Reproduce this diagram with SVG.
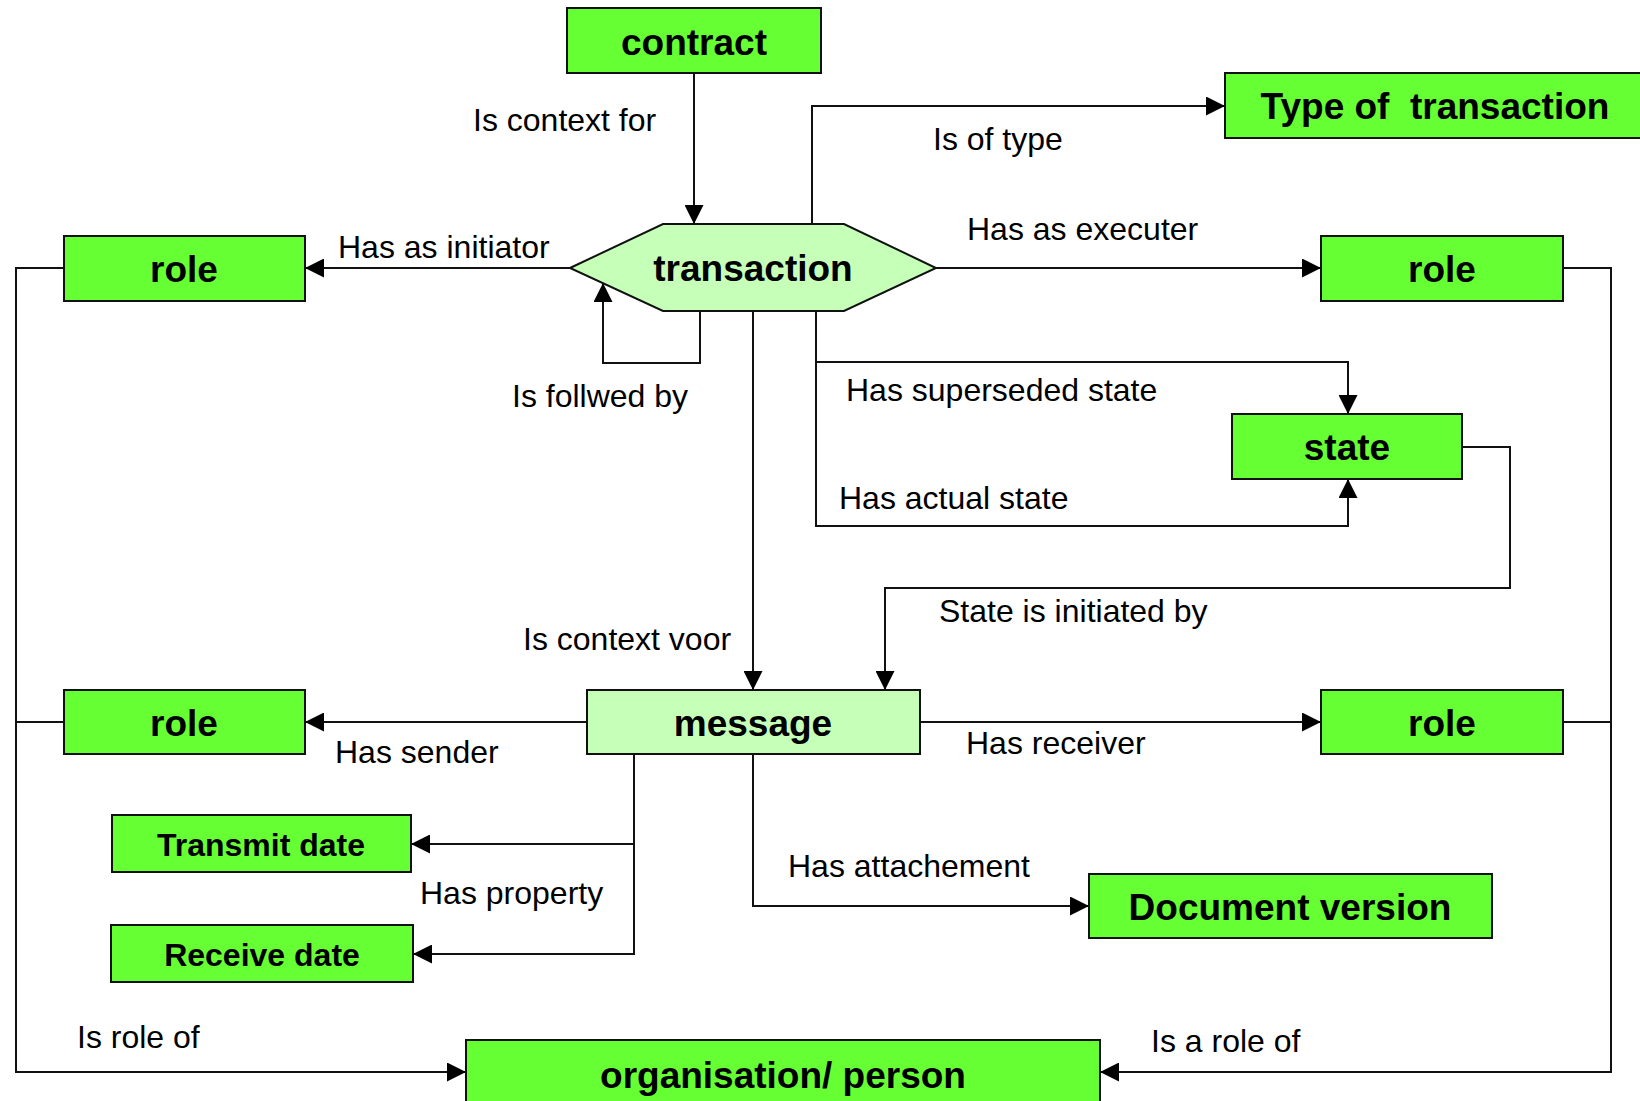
<svg xmlns="http://www.w3.org/2000/svg" width="1640" height="1101" viewBox="0 0 1640 1101">
  <style>
    .box { fill: #66FF33; stroke: #111; stroke-width: 2; }
    .soft { fill: #C6FFB8; stroke: #111; stroke-width: 2; }
    .title { font-family: "Liberation Sans", Arial, sans-serif; font-weight: bold; font-size: 37px; fill: #000; text-anchor: middle; white-space: pre; }
    .small { font-size: 32px; }
    .edge { fill: none; stroke: #111; stroke-width: 2; }
    .label { font-family: "Liberation Sans", Arial, sans-serif; font-size: 32px; fill: #000; }
  </style>
  <defs>
    <marker id="arrow" markerUnits="userSpaceOnUse" markerWidth="19" markerHeight="19" refX="19" refY="9.5" orient="auto">
      <path d="M0,0 L19,9.5 L0,19 z" fill="#000"/>
    </marker>
  </defs>
  <rect width="1640" height="1101" fill="#fff"/>

  <g id="connectors">
    <path class="edge" d="M694,73 V224" marker-end="url(#arrow)"/>
    <path class="edge" d="M812,224 V106 H1225" marker-end="url(#arrow)"/>
    <path class="edge" d="M570,268 H305" marker-end="url(#arrow)"/>
    <path class="edge" d="M936,268 H1321" marker-end="url(#arrow)"/>
    <path class="edge" d="M700,311 V363 H603 V283" marker-end="url(#arrow)"/>
    <path class="edge" d="M753,311 V690" marker-end="url(#arrow)"/>
    <path class="edge" d="M816,311 V362 H1348 V414" marker-end="url(#arrow)"/>
    <path class="edge" d="M816,362 V526 H1348 V479" marker-end="url(#arrow)"/>
    <path class="edge" d="M1462,447 H1510 V588 H885 V690" marker-end="url(#arrow)"/>
    <path class="edge" d="M587,722 H305" marker-end="url(#arrow)"/>
    <path class="edge" d="M920,722 H1321" marker-end="url(#arrow)"/>
    <path class="edge" d="M634,754 V844 H411" marker-end="url(#arrow)"/>
    <path class="edge" d="M634,844 V954 H413" marker-end="url(#arrow)"/>
    <path class="edge" d="M753,754 V906 H1089" marker-end="url(#arrow)"/>
    <path class="edge" d="M64,268 H16 V1072 H466" marker-end="url(#arrow)"/>
    <path class="edge" d="M64,722 H16"/>
    <path class="edge" d="M1563,268 H1611 V1072 H1100" marker-end="url(#arrow)"/>
    <path class="edge" d="M1563,722 H1611"/>
  </g>

  <g id="edge-labels" class="label">
    <text x="473" y="131">Is context for</text>
    <text x="933" y="150">Is of type</text>
    <text x="967" y="240">Has as executer</text>
    <text x="338" y="258">Has as initiator</text>
    <text x="512" y="407">Is follwed by</text>
    <text x="846" y="401">Has superseded state</text>
    <text x="839" y="509">Has actual state</text>
    <text x="939" y="622">State is initiated by</text>
    <text x="523" y="650">Is context voor</text>
    <text x="335" y="763">Has sender</text>
    <text x="966" y="754">Has receiver</text>
    <text x="420" y="904">Has property</text>
    <text x="788" y="877">Has attachement</text>
    <text x="77" y="1048">Is role of</text>
    <text x="1151" y="1052">Is a role of</text>
  </g>

  <g id="contract">
    <rect class="box" x="567" y="8" width="254" height="65"/>
    <text class="title" x="694" y="55">contract</text>
  </g>
  <g id="type-of-transaction">
    <rect class="box" x="1225" y="73" width="425" height="65"/>
    <text class="title" x="1435" y="119">Type of  transaction</text>
  </g>
  <g id="transaction">
    <polygon class="soft" points="570,268 663,224 844,224 936,268 844,311 663,311"/>
    <text class="title" x="753" y="281">transaction</text>
  </g>
  <g id="role-initiator">
    <rect class="box" x="64" y="236" width="241" height="65"/>
    <text class="title" x="184" y="282">role</text>
  </g>
  <g id="role-executer">
    <rect class="box" x="1321" y="236" width="242" height="65"/>
    <text class="title" x="1442" y="282">role</text>
  </g>
  <g id="state">
    <rect class="box" x="1232" y="414" width="230" height="65"/>
    <text class="title" x="1347" y="460">state</text>
  </g>
  <g id="message">
    <rect class="soft" x="587" y="690" width="333" height="64"/>
    <text class="title" x="753" y="736">message</text>
  </g>
  <g id="role-sender">
    <rect class="box" x="64" y="690" width="241" height="64"/>
    <text class="title" x="184" y="736">role</text>
  </g>
  <g id="role-receiver">
    <rect class="box" x="1321" y="690" width="242" height="64"/>
    <text class="title" x="1442" y="736">role</text>
  </g>
  <g id="transmit-date">
    <rect class="box" x="112" y="815" width="299" height="57"/>
    <text class="title small" x="261" y="856">Transmit date</text>
  </g>
  <g id="receive-date">
    <rect class="box" x="111" y="925" width="302" height="57"/>
    <text class="title small" x="262" y="966">Receive date</text>
  </g>
  <g id="document-version">
    <rect class="box" x="1089" y="874" width="403" height="64"/>
    <text class="title" x="1290" y="920">Document version</text>
  </g>
  <g id="organisation-person">
    <rect class="box" x="466" y="1040" width="634" height="70"/>
    <text class="title" x="783" y="1088">organisation/ person</text>
  </g>
</svg>
